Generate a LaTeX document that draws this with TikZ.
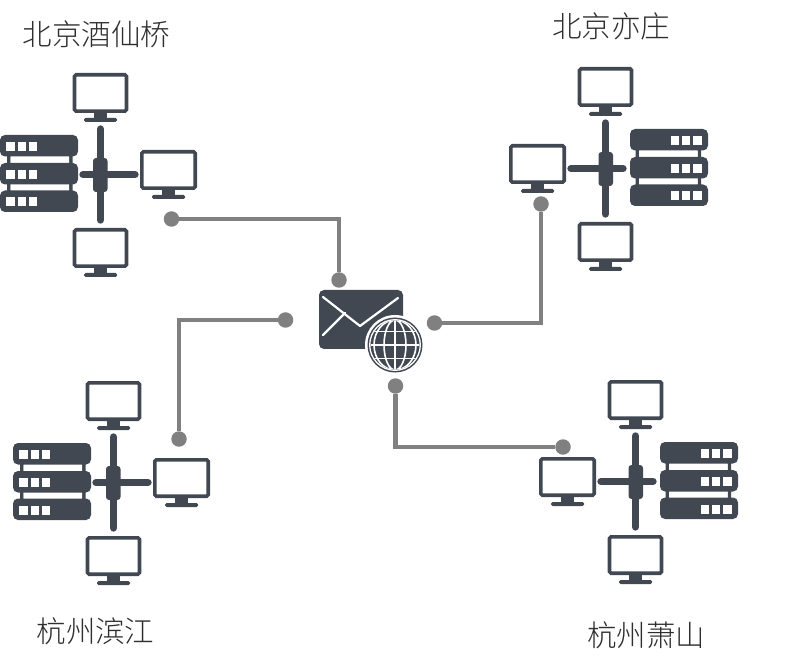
\documentclass[tikz,border=0pt]{standalone}
\usepackage{fontspec}
\setmainfont{Noto Sans CJK SC Light}
\definecolor{slate}{HTML}{414852}
\definecolor{wire}{HTML}{808080}
\definecolor{ink}{HTML}{2E2E2E}
\tikzset{
  wireline/.style={line width=4.8pt,draw=wire},
  dotend/.style={circle,fill=wire,minimum size=15.5pt,inner sep=0pt},
  place/.style={text=ink,font=\fontsize{29.5pt}{31pt}\selectfont,inner sep=0pt},
  monitor/.pic={
    \draw[slate,line width=3.6pt,fill=white,rounded corners=1.5pt] (-26,-18.2) rectangle (26,18.2);
    \fill[slate] (-6.5,20) rectangle (6.5,25.5);
    \fill[slate,rounded corners=1.5pt] (-16.5,25) rectangle (16.5,29);
  },
  widemonitor/.pic={
    \draw[slate,line width=3.6pt,fill=white,rounded corners=1.5pt] (-26.7,-18.2) rectangle (26.7,18.2);
    \fill[slate] (-6.5,20) rectangle (6.5,25.5);
    \fill[slate,rounded corners=1.5pt] (-16.5,25) rectangle (16.5,29);
  },
  cluster/.pic={
    \pic at (0.5,-82) {monitor};
    \pic at (0.5,73) {monitor};
    \pic at (68.5,-5) {widemonitor};
    \begin{scope}[shift={(\srvx,0)}]
      \fill[slate] (7,-25) rectangle (10.5,20) (69,-25) rectangle (72.5,20);
      \fill[white] (10.5,-18) rectangle (69,-12) (10.5,9) rectangle (69,15.5);
      \foreach \ytop in {-40,-12,15.5} {
        \fill[slate,rounded corners=5pt] (0,\ytop) rectangle (78,\ytop+21.5);
        \fill[white] (6,\ytop+7) rectangle (15,\ytop+16);
        \fill[white] (18,\ytop+7) rectangle (26,\ytop+16);
        \fill[white] (29,\ytop+7) rectangle (37,\ytop+16);
      }
    \end{scope}
    \draw[slate,line width=7.4pt,line cap=round] (0.5,-46) -- (0.5,45);
    \draw[slate,line width=7.4pt,line cap=round] (-17,-0.5) -- (35,-0.5);
    \fill[slate,rounded corners=3pt] (-7,-17) rectangle (7.5,17);
  }
}
\begin{document}
\begin{tikzpicture}[x=1pt,y=-1pt]
\useasboundingbox (0,0) rectangle (812,671);
\def\srvx{-100}
\pic at (100,175) {cluster};
\pic at (113,483) {cluster};
\def\srvx{-102}
\pic[xscale=-1] at (606,169) {cluster};
\pic[xscale=-1] at (636,482) {cluster};
% mail icon
\fill[slate,rounded corners=5pt] (319,290) rectangle (403,349);
\draw[white,line width=2.2pt,line cap=round,line join=round] (323,297) -- (360,326) -- (398,298);
\draw[white,line width=2.2pt,line cap=round] (323,335) -- (345,313);
% globe
\fill[white] (395,345) circle (30);
\fill[slate] (395,345) circle (27.5);
\draw[white,line width=1.3pt] (395,345) circle (25.3);
\begin{scope}
\clip (395,345) circle (24.5);
\draw[white,line width=1.6pt] (395,345) ellipse (11 and 25) (395,345) ellipse (21 and 25);
\draw[white,line width=1.6pt] (395,320) -- (395,370) (370,345) -- (420,345);
\draw[white,line width=1.6pt] (370,331.5) -- (420,331.5) (370,358.5) -- (420,358.5);
\end{scope}
% connectors
\node[dotend] (a1) at (171.5,219) {};
\node[dotend] (a2) at (339,280) {};
\node[dotend] (b1) at (541,204) {};
\node[dotend] (b2) at (434.5,323) {};
\node[dotend] (c1) at (285.5,320) {};
\node[dotend] (c2) at (179,439) {};
\node[dotend] (d1) at (395.5,386) {};
\node[dotend] (d2) at (563,447) {};
\draw[wireline] (a1) -| (a2);
\draw[wireline] (b1) |- (b2);
\draw[wireline] (c1) -| (c2);
\draw[wireline] (d1) |- (d2);
% labels
\node[place] (t1) at (96.5,34) {北京酒仙桥};
\node[place] (t2) at (611,26) {北京亦庄};
\node[place] (t3) at (95.5,631) {杭州滨江};
\node[place] (t4) at (646,635) {杭州萧山};
\end{tikzpicture}
\end{document}
